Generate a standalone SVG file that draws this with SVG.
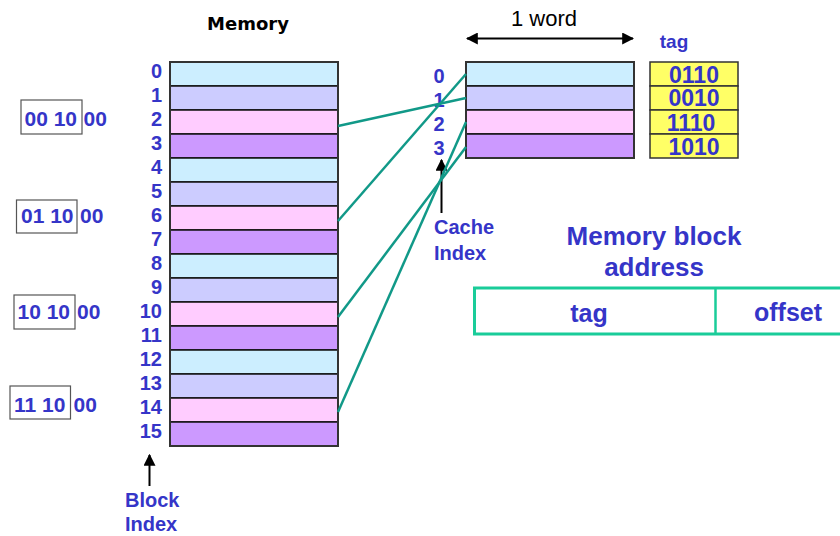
<svg xmlns="http://www.w3.org/2000/svg" width="840" height="536" viewBox="0 0 840 536">
  <style>
    .lbl { font-family: "Liberation Sans", Arial, sans-serif; font-weight: bold; fill: #3535C8; }
    .idx { font-size: 20px; text-anchor: end; }
    .cidx { font-size: 20px; text-anchor: middle; }
    .tagv { font-size: 23px; text-anchor: middle; }
    .addr { font-size: 21px; }
    .r0 { fill: #CCEEFF; }
    .r1 { fill: #CCCCFF; }
    .r2 { fill: #FFCCFF; }
    .r3 { fill: #CC99FF; }
    .row { stroke: #111; stroke-width: 1.5; }
    .tagc { fill: #FFFF66; stroke: #333; stroke-width: 1.5; }
    .abox { fill: none; stroke: #555; stroke-width: 1.2; }
    .link { stroke: #119988; stroke-width: 2.5; fill: none; }
    .ptr { stroke: #000; stroke-width: 2; fill: none; }
  </style>
  <defs>
    <marker id="head" viewBox="0 0 10 10" refX="9" refY="5" markerWidth="6" markerHeight="6" markerUnits="strokeWidth" orient="auto-start-reverse">
      <path d="M0,0 L10,5 L0,10 z" fill="#000"/>
    </marker>
  </defs>

  <!-- Memory: 16 blocks -->
  <g id="memory">
    <text x="248" y="30" font-family="DejaVu Sans, sans-serif" font-weight="bold" font-size="18" text-anchor="middle" fill="#000">Memory</text>
    <rect class="row r0" x="170" y="62" width="168" height="24"/>
    <rect class="row r1" x="170" y="86" width="168" height="24"/>
    <rect class="row r2" x="170" y="110" width="168" height="24"/>
    <rect class="row r3" x="170" y="134" width="168" height="24"/>
    <rect class="row r0" x="170" y="158" width="168" height="24"/>
    <rect class="row r1" x="170" y="182" width="168" height="24"/>
    <rect class="row r2" x="170" y="206" width="168" height="24"/>
    <rect class="row r3" x="170" y="230" width="168" height="24"/>
    <rect class="row r0" x="170" y="254" width="168" height="24"/>
    <rect class="row r1" x="170" y="278" width="168" height="24"/>
    <rect class="row r2" x="170" y="302" width="168" height="24"/>
    <rect class="row r3" x="170" y="326" width="168" height="24"/>
    <rect class="row r0" x="170" y="350" width="168" height="24"/>
    <rect class="row r1" x="170" y="374" width="168" height="24"/>
    <rect class="row r2" x="170" y="398" width="168" height="24"/>
    <rect class="row r3" x="170" y="422" width="168" height="24"/>
    <rect x="170" y="62" width="168" height="384" fill="none" stroke="#333" stroke-width="2"/>
    <g class="lbl idx">
      <text x="162" y="78">0</text>
      <text x="162" y="102">1</text>
      <text x="162" y="126">2</text>
      <text x="162" y="150">3</text>
      <text x="162" y="174">4</text>
      <text x="162" y="198">5</text>
      <text x="162" y="222">6</text>
      <text x="162" y="246">7</text>
      <text x="162" y="270">8</text>
      <text x="162" y="294">9</text>
      <text x="162" y="318">10</text>
      <text x="162" y="342">11</text>
      <text x="162" y="366">12</text>
      <text x="162" y="390">13</text>
      <text x="162" y="414">14</text>
      <text x="162" y="438">15</text>
    </g>
  </g>

  <!-- Block addresses -->
  <g id="addr-2" class="lbl addr">
    <rect class="abox" x="21" y="100" width="61" height="34"/>
    <text x="24.5" y="126">00 10</text>
    <text x="83.5" y="126">00</text>
  </g>
  <g id="addr-6" class="lbl addr">
    <rect class="abox" x="16.5" y="200" width="60.5" height="33"/>
    <text x="21" y="223">01 10</text>
    <text x="80" y="223">00</text>
  </g>
  <g id="addr-10" class="lbl addr">
    <rect class="abox" x="14" y="295" width="61" height="34"/>
    <text x="17.5" y="319">10 10</text>
    <text x="77" y="319">00</text>
  </g>
  <g id="addr-14" class="lbl addr">
    <rect class="abox" x="10" y="386" width="60.5" height="33"/>
    <text x="14" y="412">11 10</text>
    <text x="73.5" y="412">00</text>
  </g>

  <!-- Block index pointer -->
  <g id="block-index">
    <line class="ptr" x1="149.5" y1="486" x2="149.5" y2="455" marker-end="url(#head)"/>
    <text class="lbl" x="125" y="507" font-size="20">Block</text>
    <text class="lbl" x="125" y="531" font-size="20">Index</text>
  </g>

  <!-- Cache: 4 lines of one word -->
  <g id="cache">
    <text x="544" y="26" font-family="Liberation Sans, Arial, sans-serif" font-size="22" text-anchor="middle" fill="#000">1 word</text>
    <line class="ptr" x1="467" y1="38.5" x2="633" y2="38.5" marker-start="url(#head)" marker-end="url(#head)"/>
    <rect class="row r0" x="466" y="62" width="168" height="24"/>
    <rect class="row r1" x="466" y="86" width="168" height="24"/>
    <rect class="row r2" x="466" y="110" width="168" height="24"/>
    <rect class="row r3" x="466" y="134" width="168" height="24"/>
    <rect x="466" y="62" width="168" height="96" fill="none" stroke="#333" stroke-width="2"/>
    <g class="lbl cidx">
      <text x="439" y="83">0</text>
      <text x="439" y="107">1</text>
      <text x="439" y="131">2</text>
      <text x="439" y="155">3</text>
    </g>
  </g>

  <!-- Tag store -->
  <g id="tags">
    <text class="lbl" x="674" y="48" font-size="19" text-anchor="middle">tag</text>
    <rect class="tagc" x="650" y="62" width="88" height="24"/>
    <rect class="tagc" x="650" y="86" width="88" height="24"/>
    <rect class="tagc" x="650" y="110" width="88" height="24"/>
    <rect class="tagc" x="650" y="134" width="88" height="24"/>
    <g class="lbl tagv">
      <text x="694" y="82.5">0110</text>
      <text x="694" y="106">0010</text>
      <text x="691" y="130.5">1110</text>
      <text x="694" y="155">1010</text>
    </g>
  </g>

  <!-- Cache index pointer -->
  <g id="cache-index">
    <line class="ptr" x1="441.5" y1="213" x2="441.5" y2="160" marker-end="url(#head)"/>
    <text class="lbl" x="434" y="234" font-size="20">Cache</text>
    <text class="lbl" x="434" y="260" font-size="20">Index</text>
  </g>

  <!-- Block to cache line mapping -->
  <g id="connectors">
    <line class="link" x1="338" y1="126" x2="466" y2="98"/>
    <line class="link" x1="338" y1="221" x2="466" y2="74"/>
    <line class="link" x1="338" y1="317" x2="466" y2="147"/>
    <line class="link" x1="338" y1="412" x2="466" y2="122"/>
  </g>

  <!-- Address format -->
  <g id="address-format">
    <text class="lbl" x="654" y="245" font-size="26" text-anchor="middle">Memory block</text>
    <text class="lbl" x="654" y="276" font-size="26" text-anchor="middle">address</text>
    <path d="M842,288 H474.5 V334 H842" fill="none" stroke="#1ACC99" stroke-width="3"/>
    <line x1="715.5" y1="287" x2="715.5" y2="335" stroke="#1ACC99" stroke-width="2.5"/>
    <text class="lbl" x="589" y="322" font-size="25" text-anchor="middle">tag</text>
    <text class="lbl" x="788" y="321" font-size="25" text-anchor="middle">offset</text>
  </g>
</svg>
